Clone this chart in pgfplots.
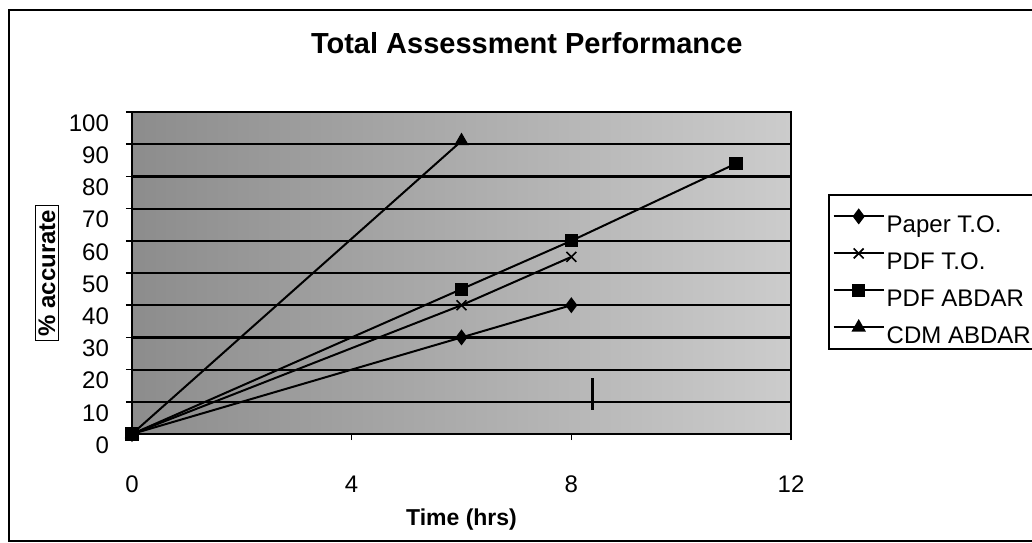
\documentclass[border=0pt]{standalone}
\usepackage{fontspec}
\setmainfont{Liberation Sans}
\usepackage{pgfplots}
\pgfplotsset{compat=1.18}

\begin{document}
\begin{tikzpicture}
\path[use as bounding box] (-66pt,-54pt) rectangle (450pt,217pt);
\begin{axis}[
    scale only axis,
    width=329.5pt, height=161pt,
    xmin=0, xmax=12, ymin=0, ymax=100,
    xtick={0,4,8,12}, ytick={0,10,...,100},
    ymajorgrids,
    major grid style={black, line width=1.1pt},
    axis line style={black, line width=0.9pt},
    axis background/.style={shade, left color=black!45, right color=black!20},
    tick align=outside, major tick length=3pt,
    tick style={black, line width=0.8pt},
    xtick pos=bottom, ytick pos=left,
    /pgf/number format/assume math mode=true,
    ticklabel style={font=\fontsize{12}{14}\selectfont},
    xticklabel style={yshift=-14.5pt},
    yticklabel style={yshift=-5.5pt, xshift=-5pt},
    title={Total Assessment Performance},
    title style={font=\bfseries\fontsize{14.5}{16}\selectfont,
        at={(axis description cs:0.599,1.177)}, anchor=center},
    xlabel={Time (hrs)},
    xlabel style={font=\bfseries\fontsize{11.5}{13}\selectfont,
        at={(axis description cs:0.5,-0.267)}, anchor=center},
    ylabel={\% accurate},
    ylabel style={font=\bfseries\fontsize{12}{14}\selectfont,
        at={(axis description cs:-0.129,0.5)}, anchor=center,
        draw, line width=0.7pt, inner xsep=2pt, inner ysep=1.5pt},
    legend style={at={(rel axis cs:1.056,0.745)}, anchor=north west,
        draw=black, line width=0.8pt, fill=white,
        font=\fontsize{12}{14}\selectfont,
        row sep=7pt, inner xsep=2pt, inner ysep=5pt,
        nodes={inner sep=1pt}},
    legend cell align=left,
    legend image code/.code={
        \draw[mark repeat=2, mark phase=2, #1]
            plot coordinates {(0pt,0pt) (12.5pt,0pt) (25pt,0pt)};},
    every axis plot/.append style={black, line width=1pt},
]
% Paper T.O.
\addplot[mark=diamond*, mark size=3.2pt] coordinates {
    (0,0) (6,30) (8,40)
};
% PDF T.O.
\addplot[mark=x, mark size=3.5pt, mark options={line width=0.8pt}] coordinates {
    (0,0) (6,40) (8,55)
};
% PDF ABDAR
\addplot[mark=square*, mark size=2.8pt] coordinates {
    (0,0) (6,45) (8,60) (11,84)
};
% CDM ABDAR
\addplot[mark=triangle*, mark size=3.2pt] coordinates {
    (0,0) (6,91)
};
% stray mark in the original scan
\addplot[black, line width=1.5pt, forget plot] coordinates {
    (8.38,7.5) (8.38,17.4)
};
\legend{\raisebox{-5pt}[8pt][0pt]{Paper T.O.},
        \raisebox{-5pt}[8pt][0pt]{PDF T.O.},
        \raisebox{-5pt}[8pt][0pt]{PDF ABDAR},
        \raisebox{-5pt}[8pt][4pt]{CDM ABDAR\hspace*{8pt}}}
\end{axis}
\draw[line width=1pt] (-61.5pt,-53.5pt) rectangle (455pt,212pt);
\end{tikzpicture}
\end{document}
